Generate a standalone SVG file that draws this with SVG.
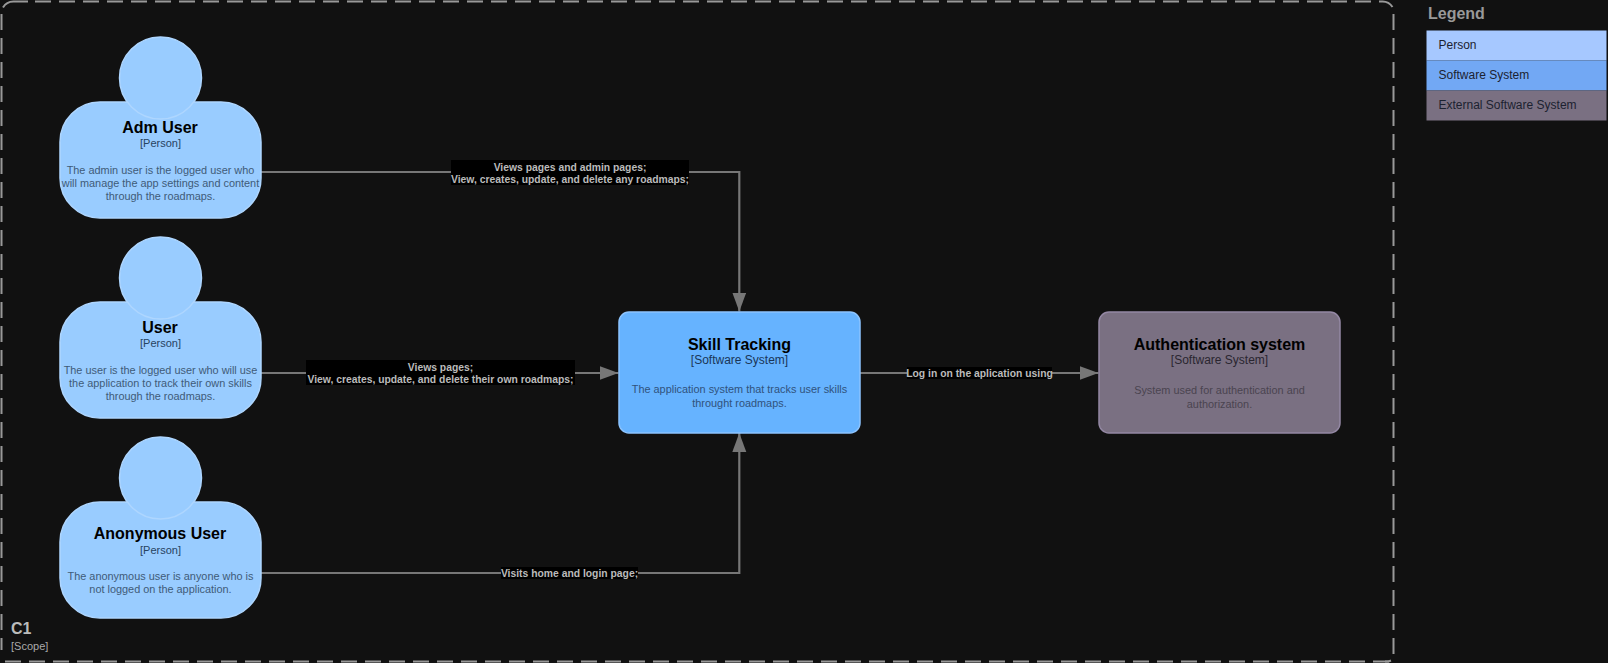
<svg xmlns="http://www.w3.org/2000/svg" width="1608" height="663" viewBox="0 0 1608 663">
<style>
text{font-family:"Liberation Sans",Arial,sans-serif;text-anchor:middle}
.t{font-size:16px;font-weight:bold;fill:#000}
.p{fill:#9cf;stroke:#aed6ff;stroke-width:1.5}
.s{font-size:11px;fill:#27435f}
.d{font-size:10.9px;fill:#3f5b78}
.c{fill:none;stroke:#777;stroke-width:2.2}
.lb{fill:#000}
.l{font-size:10.35px;font-weight:bold;fill:#bbb}
.k{font-size:12px;text-anchor:start;fill:#1c2230}
.sc{fill:none;stroke:#999;stroke-width:2}
.da{stroke-dasharray:16 8}
</style>
<defs>
<marker id="a" markerUnits="userSpaceOnUse" markerWidth="20" markerHeight="15" refX="19" refY="7" orient="auto"><path d="M0 0L19 7L0 14Z" fill="#777"/></marker>
</defs>
<rect width="1608" height="663" fill="#111"/>
<g id="scope">
<path class="sc" d="M3 7.500A12 12 0 0 1 13.500 1.500H28"/>
<path class="sc da" d="M35 1.500H1379"/>
<path class="sc" d="M1379 1.500H1381.500A12 12 0 0 1 1392.500 7"/>
<path class="sc da" d="M1393.500 14V655"/>
<path class="sc da" d="M1.500 14V650"/>
<path class="sc da" d="M5 661.500H1389"/>
<path class="sc" d="M1385 661.500H1388.500L1391 660.500"/>
<text x="11" y="634" style="text-anchor:start;font-size:16px;font-weight:bold;fill:#bbb">C1</text>
<text x="11" y="650" style="text-anchor:start;font-size:11px;fill:#aaa">[Scope]</text>
</g>
<g id="connectors">
<path class="c" d="M261 172H739.300V311.500" marker-end="url(#a)"/>
<path class="c" d="M261 373H618.500" marker-end="url(#a)"/>
<path class="c" d="M261 573H739.300V433" marker-end="url(#a)"/>
<path class="c" d="M860 373H1098.500" marker-end="url(#a)"/>
<rect class="lb" x="451" y="160" width="238" height="25"/>
<text class="l" x="570" y="171">Views pages and admin pages;</text>
<text class="l" x="570" y="183">View, creates, update, and delete any roadmaps;</text>
<rect class="lb" x="306" y="360" width="269" height="25"/>
<text class="l" x="440.500" y="371">Views pages;</text>
<text class="l" x="440.500" y="383">View, creates, update, and delete their own roadmaps;</text>
<rect class="lb" x="501" y="567" width="137" height="12"/>
<text class="l" x="569.500" y="577">Visits home and login page;</text>
<rect class="lb" x="907" y="367" width="145" height="12"/>
<text class="l" x="979.500" y="377">Log in on the aplication using</text>
</g>
<g id="adm-user">
<rect class="p" x="60" y="102" width="201" height="116" rx="40"/><circle class="p" cx="160.500" cy="78" r="41"/>
<text class="t" x="160" y="133">Adm User</text>
<text class="s" x="160.500" y="147">[Person]</text>
<text class="d" x="160.500" y="173.500">The admin user is the logged user who</text>
<text class="d" x="160.500" y="186.500">will manage the app settings and content</text>
<text class="d" x="160.500" y="199.500">through the roadmaps.</text>
</g>
<g id="user">
<rect class="p" x="60" y="302" width="201" height="116" rx="40"/><circle class="p" cx="160.500" cy="278" r="41"/>
<text class="t" x="160" y="333">User</text>
<text class="s" x="160.500" y="347">[Person]</text>
<text class="d" x="160.500" y="373.500">The user is the logged user who will use</text>
<text class="d" x="160.500" y="386.500">the application to track their own skills</text>
<text class="d" x="160.500" y="399.500">through the roadmaps.</text>
</g>
<g id="anonymous-user">
<rect class="p" x="60" y="502" width="201" height="116" rx="40"/><circle class="p" cx="160.500" cy="478" r="41"/>
<text class="t" x="160" y="539">Anonymous User</text>
<text class="s" x="160.500" y="554">[Person]</text>
<text class="d" x="160.500" y="580">The anonymous user is anyone who is</text>
<text class="d" x="160.500" y="592.500">not logged on the application.</text>
</g>
<g id="skill-tracking">
<rect x="619" y="312" width="241" height="121" rx="10" fill="#66b3ff" stroke="#8cc4ff" stroke-width="1.500"/>
<text class="t" x="739.500" y="350">Skill Tracking</text>
<text x="739.500" y="364" style="font-size:12px;fill:#1a3658">[Software System]</text>
<text x="739.500" y="393" style="font-size:10.9px;fill:#30527c">The application system that tracks user skills</text>
<text x="739.500" y="407" style="font-size:10.9px;fill:#30527c">throught roadmaps.</text>
</g>
<g id="authentication-system">
<rect x="1099" y="312" width="241" height="121" rx="10" fill="#7a7082" stroke="#9488a4" stroke-width="1.500"/>
<text class="t" x="1219.500" y="349.500">Authentication system</text>
<text x="1219.500" y="364" style="font-size:12px;fill:#2a2630">[Software System]</text>
<text x="1219.500" y="393.500" style="font-size:10.9px;fill:#4a4450">System used for authentication and</text>
<text x="1219.500" y="407.500" style="font-size:10.9px;fill:#4a4450">authorization.</text>
</g>
<g id="legend">
<text x="1428" y="19" style="text-anchor:start;font-size:16px;font-weight:bold;fill:#999">Legend</text>
<rect x="1426.500" y="30.500" width="180" height="30" fill="#a6c8ff"/>
<rect x="1426.500" y="60.500" width="180" height="30" fill="#72a8f4"/>
<rect x="1426.500" y="90.500" width="180" height="30" fill="#7a7082"/>
<text class="k" x="1438.500" y="49">Person</text>
<text class="k" x="1438.500" y="79">Software System</text>
<text class="k" x="1438.500" y="109">External Software System</text>
</g>
</svg>
